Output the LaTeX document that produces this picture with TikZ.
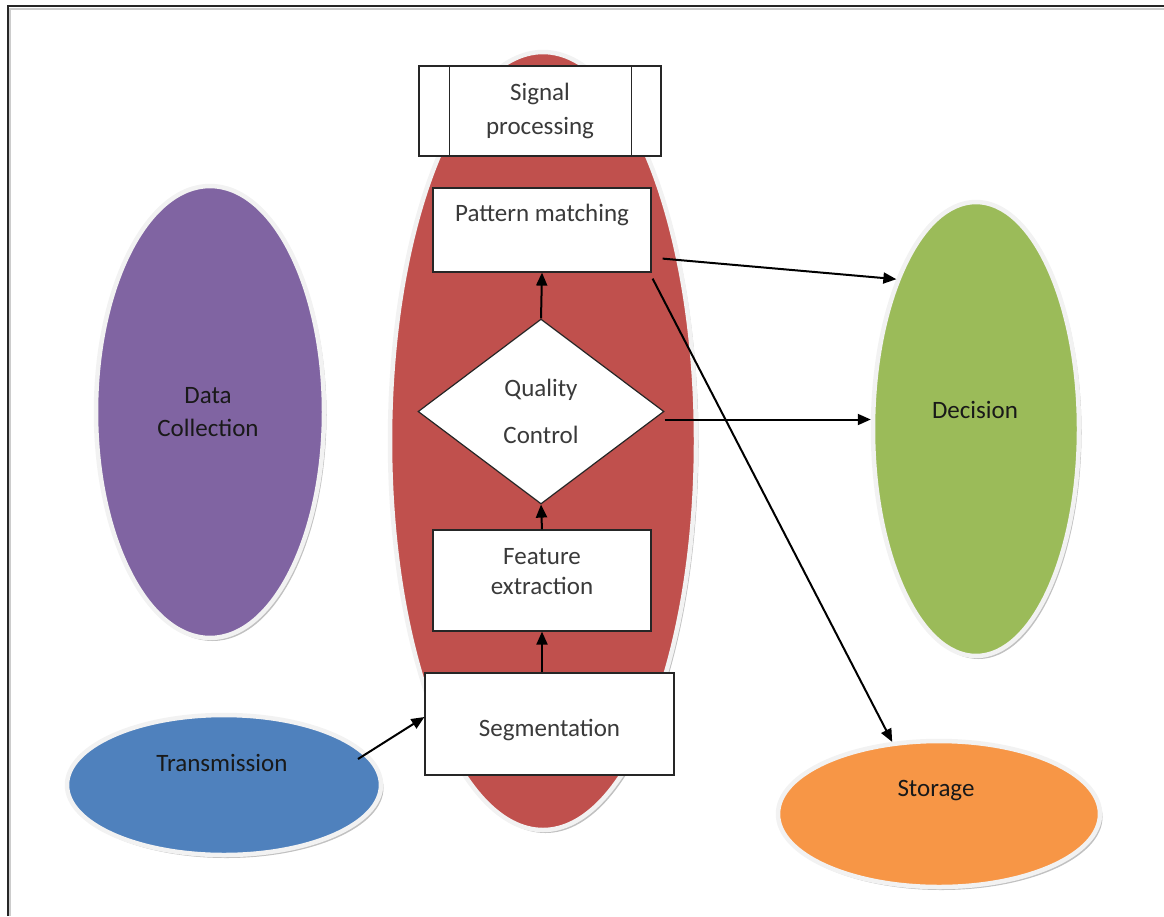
\documentclass[tikz,border=0pt]{standalone}
\usepackage{fontspec}
\setmainfont{Carlito}
\usetikzlibrary{shapes.geometric,arrows.meta,calc,shadows}
\definecolor{cpurple}{HTML}{8064A2}
\definecolor{cred}{HTML}{C0504D}
\definecolor{cgreen}{HTML}{9BBB59}
\definecolor{cblue}{HTML}{4F81BD}
\definecolor{corange}{HTML}{F79646}
\definecolor{ring}{HTML}{F2F2F2}
\definecolor{boxtext}{HTML}{3A3A3A}
\begin{document}
\begin{tikzpicture}[x=1pt,y=-1pt,
  font=\fontsize{25}{33}\selectfont,
  blob/.style={ellipse, inner sep=0pt, draw=ring, line width=4.5pt,
    drop shadow={shadow xshift=2.5pt, shadow yshift=-3pt, fill=black!35, opacity=0.7}},
  lbl/.style={align=center, text=black!90, inner sep=0pt},
  proc/.style={rectangle, draw=black!85, fill=white, line width=1.2pt, inner sep=0pt,
    align=center, text=boxtext},
  arr/.style={-{Triangle[length=13pt,width=11pt]}, line width=2pt, black},
  frame/.style={line width=2pt, black!85}]
\useasboundingbox (0,0) rectangle (1164,916);
% frame
\draw[black!20, line width=1.5pt] (10,916) -- (10,9) -- (1164,9);
\draw[frame] (8,916) -- (8,6) -- (1164,6);

% ellipses
\node[blob, fill=cpurple, minimum width=228, minimum height=452] (dc) at (210,412) {};
\node[blob, fill=cgreen, minimum width=206, minimum height=454] (dec) at (976,429) {};
\node[blob, fill=cblue, minimum width=314, minimum height=140] (tr) at (224,785) {};
\node[blob, fill=corange, minimum width=322, minimum height=146] (st) at (939,814) {};
\node[blob, fill=cred, minimum width=306, minimum height=778] (core) at (543,441) {};

\node[lbl] (dct) at (208,412) {Data\\Collection};
\node[lbl] (dect) at (975,410) {Decision};
\node[lbl] (trt) at (222,763) {Transmission};
\node[lbl] (stt) at (936,791) {Storage};

% boxes
\node[proc, minimum width=242, minimum height=90, font=\fontsize{25}{34}\selectfont] (sp) at (540,111) {Signal\\processing};
\draw[black!85, line width=1.2pt] ([xshift=31pt]sp.north west) -- ([xshift=31pt]sp.south west);
\draw[black!85, line width=1.2pt] ([xshift=-30pt]sp.north east) -- ([xshift=-30pt]sp.south east);
\node[proc, minimum width=218, minimum height=84, font=\fontsize{25}{34}\selectfont] (pm) at (542,230) {Pattern matching\\\mbox{}};
\node[diamond, draw=black!85, fill=white, line width=1.2pt, inner sep=0pt,
  minimum width=246, minimum height=185, align=center, text=boxtext,
  font=\fontsize{25}{47}\selectfont] (qc) at (541,411.5) {Quality\\Control};
\node[proc, minimum width=218, minimum height=101, font=\fontsize{25}{30}\selectfont] (fe) at (542,580.5) {Feature\\extraction\\[-12pt]};
\node[proc, minimum width=249, minimum height=102, text height=24pt, text depth=0pt] (seg) at (549.5,724) {Segmentation};

% connectors
\draw[arr] (qc.north) -- (pm.south);
\draw[arr] (fe.north) -- (qc.south);
\draw[arr] (fe.south |- seg.north) -- (fe.south);
\draw[arr] ($(tr.center)+(134,-26)$) -- ([yshift=7pt]seg.west);
\draw[arr] ($(pm.south east)+(11,-14)$) -- (dec.118);
\draw[arr] ($(pm.south east)+(1,6)$) -- (st.123);
\coordinate (qcr) at ($(qc.east)+(0,8)$);
\draw[arr] (qcr) -- (dec.west |- qcr);
\end{tikzpicture}
\end{document}
